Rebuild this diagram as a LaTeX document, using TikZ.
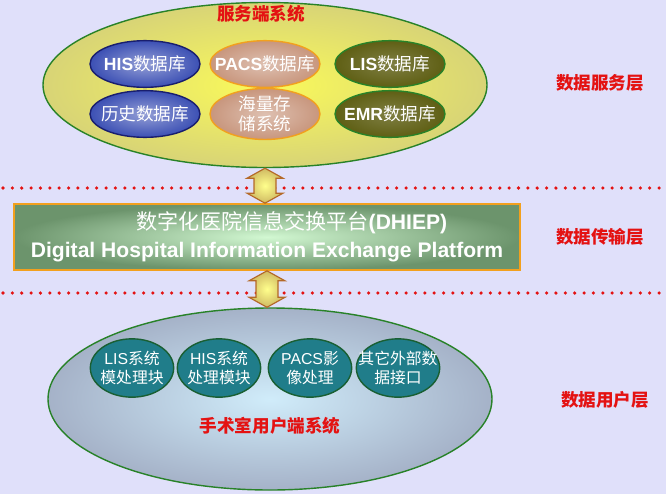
\documentclass[tikz,border=0pt]{standalone}
\usepackage{fontspec}
\setmainfont{Liberation Sans}
\newfontfamily\cjk{Noto Sans CJK SC}
\usetikzlibrary{positioning,calc,shapes.geometric}
\definecolor{pagebg}{RGB}{224,224,250}
\definecolor{labelred}{RGB}{228,18,18}
\definecolor{rimgreen}{RGB}{40,130,40}
\definecolor{srvyellow}{RGB}{250,250,90}
\definecolor{srvolive}{RGB}{216,212,118}
\definecolor{dbblue}{RGB}{60,80,180}
\definecolor{dbnavy}{RGB}{25,30,110}
\definecolor{dbsalmon}{RGB}{200,150,125}
\definecolor{dborange}{RGB}{242,160,30}
\definecolor{dbolive}{RGB}{95,95,20}
\definecolor{modteal}{RGB}{32,125,138}
\definecolor{modgreen}{RGB}{25,95,50}
\definecolor{platgreen}{RGB}{108,148,108}
\definecolor{platlight}{RGB}{210,248,210}
\definecolor{cltblue}{RGB}{208,236,250}
\definecolor{cltgrey}{RGB}{165,178,200}
\definecolor{arrowbrown}{RGB}{180,105,40}
\newcommand{\zh}[1]{{\cjk\mdseries #1}}
% double arrow between two points, #1 top and #2 bottom
\newcommand{\dblarrow}[2]{%
  \path[arrowbody] (#1) -- ($(#1)+(18,10)$) -- ($(#1)+(11,10)$)
    -- ($(#2)+(11,-10)$) -- ($(#2)+(18,-10)$) -- (#2)
    -- ($(#2)+(-18,-10)$) -- ($(#2)+(-11,-10)$)
    -- ($(#1)+(-11,10)$) -- ($(#1)+(-18,10)$) -- cycle;}
\tikzset{
  layer/.style={ellipse, draw=rimgreen, line width=1.2pt, minimum width=13.32cm},
  db/.style={ellipse, line width=1.2pt, minimum width=3.3cm, minimum height=1.4cm,
    inner xsep=-12pt, inner ysep=0pt, text=white, align=center,
    font=\fontsize{15}{17}\selectfont},
  dbblue/.style={db, draw=dbnavy, inner color=dbblue!55!white, outer color=dbblue},
  dbsalmon/.style={db, draw=dborange, inner color=dbsalmon!60!white, outer color=dbsalmon},
  dbolive/.style={db, draw=rimgreen, inner color=dbolive!80!white, outer color=dbolive},
  module/.style={ellipse, draw=modgreen, line width=1.2pt, fill=modteal,
    minimum width=2.5cm, minimum height=1.75cm, inner xsep=-9pt, inner ysep=0pt,
    text=white, align=center, font=\fontsize{13.5}{16.5}\selectfont},
  redlabel/.style={text=labelred, font=\cjk\bfseries\fontsize{15}{17}\selectfont},
  sepline/.style={labelred, line width=3pt, line cap=round, dash pattern=on 0pt off 8pt},
  arrowbody/.style={draw=arrowbrown, line width=1pt, inner color=yellow!45!white,
    outer color=srvolive!75!arrowbrown},
}

\begin{document}
\begin{tikzpicture}[x=0.03cm, y=-0.03cm]
    \fill[pagebg] (0,0) rectangle (666,494);
    % separators
    \draw[sepline] (3,188) -- (663,188);
    \draw[sepline] (3,293) -- (663,293);
    % server side
    \node[layer, minimum height=4.95cm, inner color=srvyellow, outer color=srvolive] (server) at (265,85) {};
    \node[redlabel] (servertitle) at (261,14) {服务端系统};
    \node[dbblue] (hisdb) at (145,64) {\textbf{HIS}\zh{数据库}};
    \node[dbsalmon] (pacsdb) at (265,64) {\textbf{PACS}\zh{数据库}};
    \node[dbolive] (lisdb) at (390,64) {\textbf{LIS}\zh{数据库}};
    \node[dbblue] (histdb) at (145,114) {\zh{历史数据库}};
    \node[dbsalmon] (storage) at (265,114) {\zh{海量存}\\\zh{储系统}};
    \node[dbolive] (emrdb) at (390,114) {\textbf{EMR}\zh{数据库}};
    % platform
    \node[draw=dborange, line width=1.4pt, inner color=platlight, outer color=platgreen,
      minimum width=15.18cm, minimum height=1.98cm, text=white, align=center,
      font=\bfseries\fontsize{18}{24}\selectfont] (platform) at (267,237)
      {\hspace{1.5cm}\zh{数字化医院信息交换平台}(DHIEP)\\Digital Hospital Information Exchange Platform};
    % client side
    \node[layer, minimum height=5.46cm, inner color=cltblue, outer color=cltgrey] (client) at (270,399) {};
    \node[module] (lismod) at (132,368) {LIS\zh{系统}\\\zh{模处理块}};
    \node[module] (hismod) at (219,368) {HIS\zh{系统}\\\zh{处理模块}};
    \node[module] (pacsmod) at (310,368) {PACS\zh{影}\\\zh{像处理}};
    \node[module] (extmod) at (398,368) {\zh{其它外部数}\\\zh{据接口}};
    \node[redlabel] (clienttitle) at (270,426) {手术室用户端系统};
    % layer names
    \node[redlabel] (servicelayer) at (600,83) {数据服务层};
    \node[redlabel] (transferlayer) at (600,237) {数据传输层};
    \node[redlabel] (userlayer) at (605,400) {数据用户层};
    % arrows
    \coordinate (up1) at (server.south);
    \coordinate (dn1) at (server.south |- platform.north);
    \dblarrow{up1}{dn1}
    \coordinate (up2) at (platform.south);
    \coordinate (dn2) at (platform.south |- client.north);
    \dblarrow{up2}{dn2}
\end{tikzpicture}
\end{document}
